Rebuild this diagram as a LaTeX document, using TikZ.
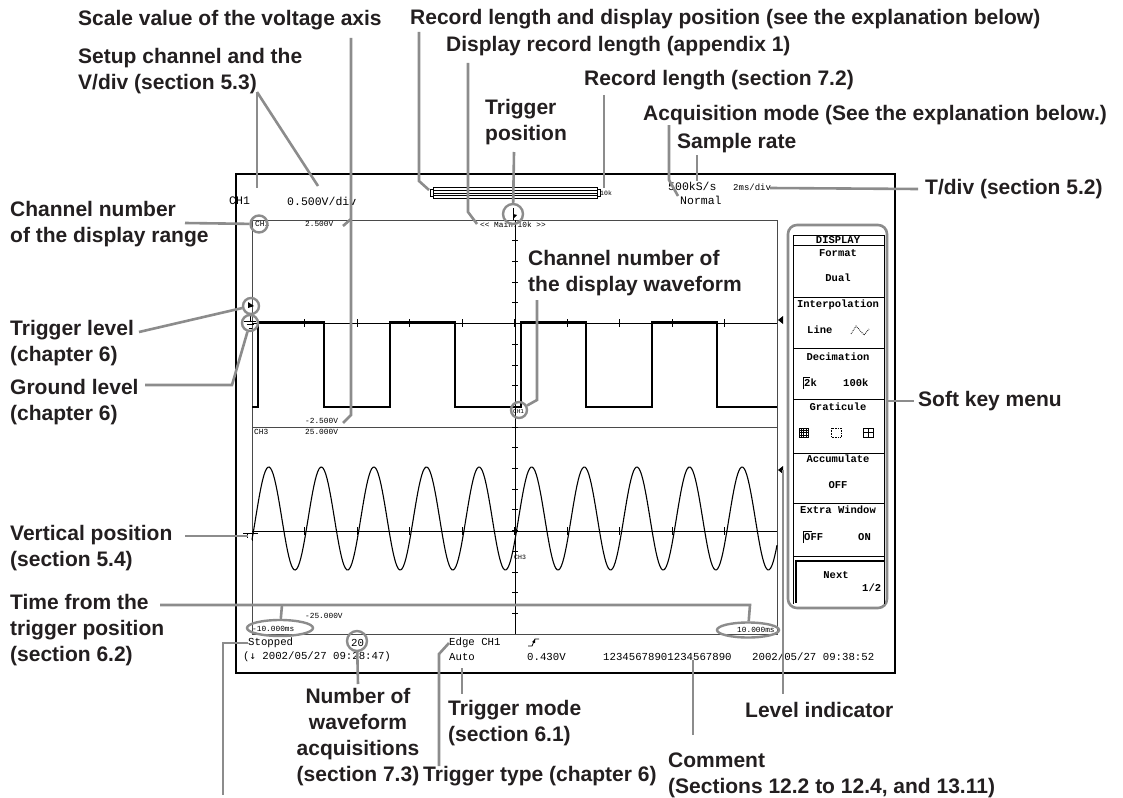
\documentclass[tikz,border=0pt]{standalone}
\usepackage{fontspec}
\setmainfont{Liberation Sans}
\setmonofont{Liberation Mono}
\newfontfamily\arrowfont{DejaVu Sans Mono}
\usetikzlibrary{positioning,shapes.geometric}
\definecolor{leadgray}{HTML}{8C8C8C}
\definecolor{labelink}{HTML}{231F20}
\definecolor{gridink}{HTML}{4A4A4A}

\begin{document}
\begin{tikzpicture}[
  x=1pt, y=-1pt,
  callout/.style={font=\fontsize{21}{26}\selectfont\bfseries, text=labelink,
                  inner sep=0pt, align=left, anchor=west},
  leader/.style={draw=leadgray, line width=2.6pt},
  ring/.style={draw=leadgray, line width=2.4pt, circle, inner sep=0pt,
               minimum size=#1},
  ring/.default=17pt,
  oval/.style={draw=leadgray, line width=2.4pt, ellipse, inner sep=0pt},
  hdr/.style={font=\fontsize{11.5}{12}\selectfont\ttfamily, inner sep=0pt, anchor=west},
  scr/.style={font=\fontsize{10.7}{11}\selectfont\ttfamily, inner sep=0pt, anchor=west},
  tiny/.style={font=\fontsize{7.8}{8}\selectfont\ttfamily, inner sep=0pt, anchor=west},
  key/.style={font=\fontsize{10.5}{11}\selectfont\ttfamily\bfseries, inner sep=0pt},
  wave/.style={line width=1.1pt},
  gridline/.style={draw=gridink, line width=1pt},
]
\fill[white] (0,0) rectangle (1123,797);
\useasboundingbox (0,0) rectangle (1123,797);

% --- Screen frame and graticule ---
\draw[line width=1.3pt] (236,174) rectangle (895,673);
\draw[gridline] (252,220) rectangle (777,634);
\draw[gridline] (252,427) -- (777,427);
\draw[line width=0.8pt] (515,220) -- (515,634);
\draw[line width=0.8pt] (252,323) -- (777,323);
\draw[line width=0.8pt] (252,531) -- (777,531);
\foreach \k in {1,...,19}
  \draw[line width=0.7pt] (512,{220+20.7*\k}) -- (518,{220+20.7*\k});
\foreach \k in {1,...,9} {
  \draw[line width=0.7pt] ({252+52.5*\k},319) -- ({252+52.5*\k},327);
  \draw[line width=0.7pt] ({252+52.5*\k},527) -- ({252+52.5*\k},535);
}

% --- Waveforms ---
\draw[wave] (252,407) -- (258,407) -- (258,322) -- (324,322) -- (324,407)
  -- (390,407) -- (390,322) -- (455,322) -- (455,407) -- (521,407)
  -- (521,322) -- (586,322) -- (586,407) -- (652,407) -- (652,322)
  -- (717,322) -- (717,407) -- (777,407);
\draw[wave] plot[domain=252:777, samples=400]
  (\x, {518.5 - 51.5*cos(6.8441*(\x-531.7))});

% --- Header line ---
\node[hdr] (hdCh)   at (229,201) {CH1};
\node[hdr] (hdVdiv) at (287,201) {0.500V/div};
\node[hdr] (hdRate) at (668,186) {500kS/s};
\node[hdr] (hdMode) at (680,200) {Normal};
\node[tiny, font=\fontsize{9}{9}\selectfont\ttfamily] (hdTdiv) at (733,187) {2ms/div};
\node[tiny, font=\fontsize{6.5}{7}\selectfont\ttfamily] (hdRec) at (600,193) {10k};
% record length bar
\draw[line width=0.8pt] (433,187) rectangle (597,198);
\draw[line width=0.6pt] (433,190.5) -- (597,190.5) (433,193) -- (597,193)
  (433,195.5) -- (597,195.5);
\draw[line width=0.8pt] (430,189) rectangle (433,196) (597,189) rectangle (600,196);

% --- Texts inside the graticule ---
\node[tiny] (rgLabel) at (255,224) {CH1};
\node[tiny] (vMax)    at (305,224) {2.500V};
\node[tiny] (zoomTag) at (480,225) {<< Main:10k >>};
\node[tiny] (vMin)    at (305,421) {-2.500V};
\node[tiny] (ch3Tag)  at (254,432) {CH3};
\node[tiny] (v3Max)   at (305,432) {25.000V};
\node[tiny] (v3Min)   at (305,616) {-25.000V};
\node[tiny] (tLeft)   at (252,629) {-10.000ms};
\node[tiny] (tRight)  at (737,630) {10.000ms};
\node[tiny, font=\fontsize{6}{6}\selectfont\ttfamily] (wCh1) at (513,412) {CH1};
\node[tiny, font=\fontsize{6.5}{7}\selectfont\ttfamily] (wCh3) at (514,557) {CH3};

% level and position markers
\fill (248,302) -- (254,306) -- (248,308) -- cycle;
\draw[line width=0.8pt] (250,316) -- (250,321) (244,321) -- (256,321)
  (246.5,324.5) -- (253.5,324.5) (248.5,328) -- (251.5,328);
\draw[line width=0.8pt] (243,533) -- (258,533) (252,533) -- (252,541) (247,533) -- (247,538);
\draw[line width=0.8pt] (513,208) -- (513,220);
\fill (513,214) -- (517,215) -- (513,219) -- cycle;
\fill (778,320) -- (783,316) -- (783,324) -- cycle;
\fill (778,470) -- (783,466) -- (783,474) -- cycle;

% --- Status line ---
\node[scr] (stStop)    at (248,643) {Stopped};
\node[scr] (stTime)    at (243,657) {(\arrowfont↓\ttfamily\ 2002/05/27 09:28:47)};
\node[scr] (stCount)   at (351,643) {20};
\node[scr] (stEdge)    at (449,643) {Edge CH1};
\node[scr] (stAuto)    at (449,657) {Auto};
\node[scr] (stLevel)   at (527,657) {0.430V};
\node[scr] (stComment) at (603,657) {12345678901234567890};
\node[scr] (stClock)   at (752,657) {2002/05/27 09:38:52};
\draw[line width=0.8pt] (528,646) -- (532,646) -- (535,639) -- (539,639);
\fill (535,639) -- (532,642) -- (535,643) -- cycle;

% --- Soft key menu ---
\draw[draw=leadgray, line width=2.6pt, rounded corners=9pt] (788,225) rectangle (887,608);
\draw[line width=0.8pt] (793,604) -- (793,235) -- (884,235) -- (884,604);
\foreach \yy in {245,297,348,399,453,503,556}
  \draw[line width=0.8pt] (793,\yy) -- (884,\yy);
\node[key] (kTitle)  at (838,240) {DISPLAY};
\node[key] (kFmt)    at (838,253) {Format};
\node[key] (kFmtV)   at (838,278) {Dual};
\node[key] (kIntp)   at (838,305) {Interpolation};
\node[key, anchor=west] (kIntpV) at (807,330) {Line};
\draw[densely dotted, line width=0.8pt] (851,334) -- (856,326) -- (864,335) -- (869,329);
\node[key] (kDec)    at (838,357) {Decimation};
\node[key, anchor=west] (kDecA) at (804,383) {2k};
\node[key, anchor=west] (kDecB) at (843,383) {100k};
\draw[line width=0.7pt] (803,389) -- (803,377) -- (810,377);
\node[key] (kGrat)   at (838,407) {Graticule};
% graticule icons
\draw[line width=0.6pt] (799,428) rectangle (808,437);
\foreach \g in {1,2,3}
  \draw[line width=0.5pt] ({799+2.25*\g},428) -- ({799+2.25*\g},437)
                          (799,{428+2.25*\g}) -- (808,{428+2.25*\g});
\draw[densely dotted, line width=0.6pt] (831,428) rectangle (841,437);
\draw[line width=0.6pt] (863,428) rectangle (873,437) (868,428) -- (868,437) (863,432.5) -- (873,432.5);
\node[key] (kAcc)    at (838,459) {Accumulate};
\node[key] (kAccV)   at (838,485) {OFF};
\node[key] (kExt)    at (838,510) {Extra Window};
\node[key, anchor=west] (kExtA) at (804,537) {OFF};
\node[key, anchor=west] (kExtB) at (858,537) {ON};
\draw[line width=0.7pt] (803,543) -- (803,531) -- (812,531);
\draw[line width=2pt] (796,603) -- (796,561) -- (884,561);
\node[key] (kNext)   at (836,575) {Next};
\node[key, anchor=west] (kPage) at (862,588) {1/2};

% --- Callout labels ---
\node[callout] (lblScale)   at (78,20)   {Scale value of the voltage axis};
\node[callout] (lblRecDisp) at (410,19)  {Record length and display position (see the explanation below)};
\node[callout] (lblDispRec) at (446,46)  {Display record length (appendix 1)};
\node[callout] (lblSetup)   at (78,71)   {Setup channel and the\\V/div (section 5.3)};
\node[callout] (lblRecLen)  at (584,80)  {Record length (section 7.2)};
\node[callout] (lblTrigPos) at (485,122) {Trigger\\position};
\node[callout] (lblAcq)     at (643,115) {Acquisition mode (See the explanation below.)};
\node[callout] (lblRate)    at (677,143) {Sample rate};
\node[callout] (lblTdiv)    at (925,189) {T/div (section 5.2)};
\node[callout] (lblRange)   at (10,224)  {Channel number\\of the display range};
\node[callout] (lblWave)    at (528,273) {Channel number of\\the display waveform};
\node[callout] (lblTrigLvl) at (10,343)  {Trigger level\\(chapter 6)};
\node[callout] (lblGnd)     at (10,402)  {Ground level\\(chapter 6)};
\node[callout] (lblSoft)    at (918,401) {Soft key menu};
\node[callout] (lblVpos)    at (10,548)  {Vertical position\\(section 5.4)};
\node[callout] (lblTime)    at (10,630)  {Time from the\\trigger position\\(section 6.2)};
\node[callout, align=center, anchor=center] (lblCount) at (358,737)
  {Number of\\waveform\\acquisitions\\(section 7.3)};
\node[callout] (lblTrigMode) at (448,723) {Trigger mode\\(section 6.1)};
\node[callout] (lblLevel)   at (745,710) {Level indicator};
\node[callout] (lblComment) at (668,775) {Comment\\(Sections 12.2 to 12.4, and 13.11)};
\node[callout] (lblTrigType) at (423,776) {Trigger type (chapter 6)};

% --- Rings round the items ---
\node[ring] (rgRange) at (259,224) {};
\node[ring=20pt] (rgTrigPos) at (513,214) {};
\node[ring=16pt] (rgTrigLvl) at (251,306) {};
\node[ring=16pt] (rgGnd) at (250,323) {};
\node[ring=16pt] (rgWave) at (519,410) {};
\node[ring=20pt] (rgCount) at (357,641) {};
\node[oval, minimum width=66pt, minimum height=16pt] (ovLeft) at (280,628) {};
\node[oval, minimum width=62pt, minimum height=15pt] (ovRight) at (748,630) {};

% --- Leaders ---
\coordinate (scaleTop) at (351,38);
\draw[leader] (scaleTop) -- (351,415) -- (343,423);
\draw[leader] (351,219) -- (343,226);
\coordinate (recDispTop) at (419,32);
\draw[leader] (recDispTop) -- (419,181) -- (429,190);
\coordinate (dispRecTop) at (468,63);
\draw[leader] (dispRecTop) -- (468,212) -- (477,224);
\coordinate (setupTop) at (257,92);
\draw[leader] (setupTop) -- (257,188);
\draw[leader] (setupTop) -- (318,186);
\coordinate (trigPosTop) at (514,152);
\draw[leader] (trigPosTop) -- (rgTrigPos);
\coordinate (recLenTop) at (604,95);
\draw[leader] (recLenTop) -- (604,188);
\coordinate (acqTop) at (669,125);
\draw[leader] (acqTop) -- (669,180) -- (678,196);
\coordinate (rateTop) at (697,155);
\draw[leader] (rateTop) -- (697,181);
\coordinate (tdivEnd) at (770,188);
\draw[leader] (tdivEnd) -- ([xshift=-7pt]lblTdiv.west);
\draw[leader] (185,223) -- (rgRange);
\draw[leader] (139,332) -- (rgTrigLvl);
\draw[leader] (145,385) -- (232,385) -- (rgGnd);
\draw[leader] (185,536) -- (248,536);
\draw[leader] (160,605) -- (750,605) -- (ovRight);
\draw[leader] (282,605) -- (ovLeft);
\draw[leader] (537,300) -- (537,400) -- (rgWave);
\draw[leader] (stStop.west) -- (223,643) -- (223,795);
\draw[leader] (rgCount) -- (358,684);
\draw[leader] (439,766) -- (439,654) -- (stEdge.west);
\draw[leader] (462,668) -- (462,694);
\draw[leader] (693,660) -- (693,735);
\draw[leader] (783,470) -- (783,694);
\draw[leader] (888,401) -- ([xshift=-4pt]lblSoft.west);
\end{tikzpicture}
\end{document}
